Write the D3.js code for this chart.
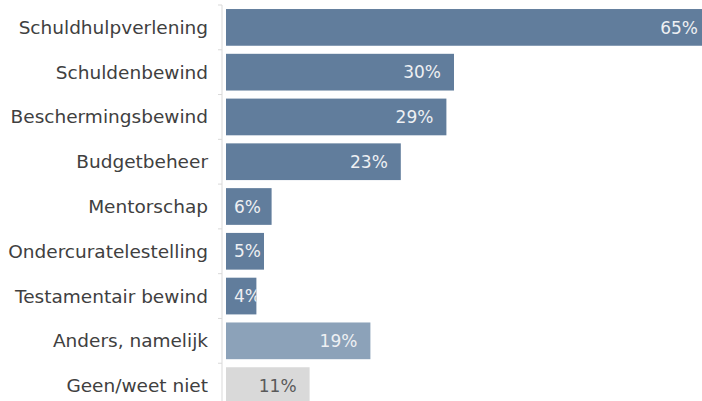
<!DOCTYPE html>
<html>
<head>
<meta charset="utf-8">
<script src="https://cdn.jsdelivr.net/npm/d3@7"></script>
<style>
  body { margin: 0; background: #fff; }
  svg { display: block; }
</style>
</head>
<body>
<svg id="chart"></svg>
<script>
// categories and values
var categories = ["Schuldhulpverlening", "Schuldenbewind", "Beschermingsbewind", "Budgetbeheer",
    "Mentorschap", "Ondercuratelestelling", "Testamentair bewind", "Anders, namelijk", "Geen/weet niet"];
var values = [65, 30, 29, 23, 6, 5, 4, 19, 11];
var groups = ["main", "main", "main", "main", "main", "main", "main", "other", "none"];

var width = 702;
var height = 401;

var barColor = { main: "#617d9c", other: "#8ca2b9", none: "#d9d9d9" };
var textColor = { main: "#eef0f3", other: "#eef0f3", none: "#595959" };

var svg = d3.select("#chart")
    .attr("width", width)
    .attr("height", height);

var x = d3.scaleLinear()
    .domain([0, 65])
    .range([226, 720]);

var y = d3.scaleBand()
    .domain(categories)
    .range([5, 408])
    .paddingInner(0.18)
    .paddingOuter(0.09);

// axis line with ticks between the bands
var axisX = 222;
var step = y.step();
svg.append("line")
    .attr("x1", axisX).attr("x2", axisX)
    .attr("y1", 5).attr("y2", height)
    .attr("stroke", "#d9d9d9").attr("stroke-width", 1);

svg.selectAll(".tick")
    .data(d3.range(categories.length + 1))
    .enter()
    .append("line")
    .attr("x1", axisX - 4).attr("x2", axisX)
    .attr("y1", function(i) { return 5 + i * step; })
    .attr("y2", function(i) { return 5 + i * step; })
    .attr("stroke", "#d9d9d9");

// category labels
svg.selectAll(".cat")
    .data(categories)
    .enter()
    .append("text")
    .attr("x", 208)
    .attr("y", function(d) { return y(d) + y.bandwidth() / 2; })
    .attr("dy", "0.35em")
    .attr("text-anchor", "end")
    .attr("font-family", "DejaVu Sans, Verdana, sans-serif")
    .attr("font-size", 18.5)
    .attr("fill", "#404040")
    .text(function(d) { return d; });

// clip paths so small labels get cut at the bar end
var defs = svg.append("defs");
categories.forEach(function(c, i) {
    defs.append("clipPath")
        .attr("id", "clip" + i)
        .append("rect")
        .attr("x", x(0))
        .attr("y", y(c))
        .attr("width", x(values[i]) - x(0))
        .attr("height", y.bandwidth());
});

svg.selectAll(".bar")
    .data(values)
    .enter()
    .append("rect")
    .attr("x", x(0))
    .attr("y", function(d, i) { return y(categories[i]); })
    .attr("width", function(d) { return x(d) - x(0); })
    .attr("height", y.bandwidth())
    .attr("fill", function(d, i) { return barColor[groups[i]]; });

var labels = svg.selectAll(".val")
    .data(values)
    .enter()
    .append("text")
    .attr("clip-path", function(d, i) { return "url(#clip" + i + ")"; })
    .attr("y", function(d, i) { return y(categories[i]) + y.bandwidth() / 2; })
    .attr("dy", "0.36em")
    .attr("font-family", "DejaVu Sans, Verdana, sans-serif")
    .attr("font-size", 17)
    .attr("fill", function(d, i) { return textColor[groups[i]]; })
    .text(function(d) { return d + "%"; });

labels.each(function(d) {
    var tw = this.getComputedTextLength();
    var end = Math.min(x(d) - 13, width - 4);
    var start = Math.max(end - tw, x(0) + 8);
    d3.select(this).attr("x", start);
});
</script>
</body>
</html>
